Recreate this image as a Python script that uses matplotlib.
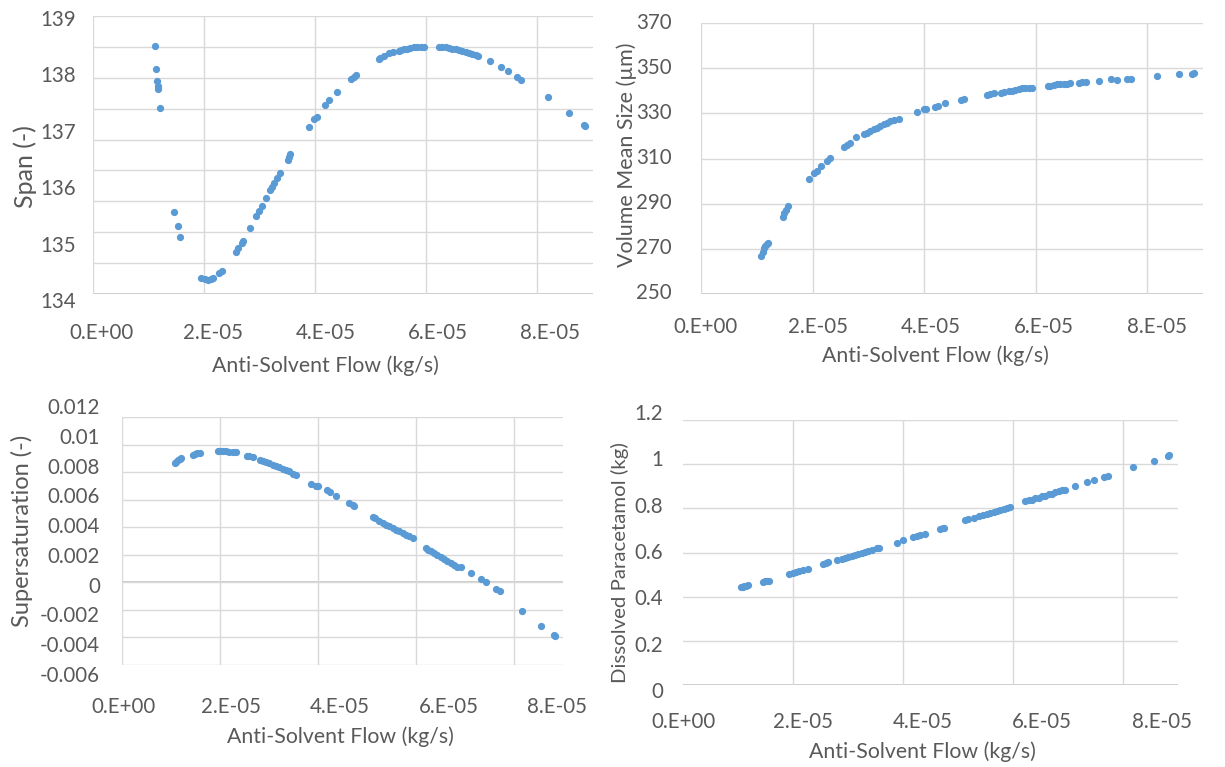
import numpy as np
import matplotlib
matplotlib.use("Agg")
import matplotlib.pyplot as plt

# ---------------- data (flow in kg/s) ----------------
span_flow = np.array([
    1.113, 1.131, 1.155, 1.161, 1.173, 1.203,
    1.456, 1.522, 1.570,
    1.943, 2.015, 2.075, 2.117, 2.165, 2.268, 2.316,
    2.568, 2.617, 2.677, 2.707, 2.833, 2.929, 2.990, 3.038, 3.110, 3.188,
    3.218, 3.260, 3.308, 3.368, 3.501, 3.531, 3.549,
    3.880, 3.982, 4.030, 4.180, 4.247, 4.391, 4.644, 4.692, 4.734,
    5.143, 5.173, 5.233, 5.323, 5.395, 5.504, 5.546, 5.594, 5.654, 5.714,
    5.774, 5.835, 5.895, 5.955,
    6.226, 6.286, 6.346, 6.406, 6.466, 6.526, 6.586, 6.647, 6.707, 6.767,
    6.827, 6.887, 6.935,
    7.140, 7.350, 7.471, 7.639, 7.711,
    8.198, 8.571, 8.830, 8.854]) * 1e-5
span_val = np.array([
    138.545, 138.125, 137.913, 137.830, 137.771, 137.446,
    135.590, 135.353, 135.147,
    134.420, 134.402, 134.390, 134.414, 134.431, 134.520, 134.556,
    134.892, 134.952, 135.040, 135.087, 135.312, 135.525, 135.608, 135.702,
    135.850, 135.986, 136.045, 136.104, 136.193, 136.293, 136.518, 136.577,
    136.624,
    137.097, 137.239, 137.286, 137.487, 137.582, 137.729, 137.954, 137.995,
    138.031,
    138.303, 138.326, 138.362, 138.409, 138.433, 138.456, 138.468, 138.480,
    138.492, 138.509, 138.521, 138.527, 138.527, 138.527,
    138.527, 138.527, 138.521, 138.509, 138.492, 138.480, 138.462, 138.450,
    138.433, 138.415, 138.391, 138.374, 138.356,
    138.267, 138.161, 138.102, 137.983, 137.936,
    137.635, 137.352, 137.138, 137.121])

vms_flow = np.array([
    1.077, 1.107, 1.131, 1.155, 1.179, 1.203,
    1.466, 1.496, 1.526, 1.556,
    1.945, 2.029, 2.076, 2.148, 2.256, 2.304,
    2.567, 2.615, 2.663, 2.783, 2.914, 2.974, 3.034, 3.094, 3.154, 3.213,
    3.273, 3.333, 3.393, 3.465, 3.543,
    3.872, 3.991, 4.039, 4.201, 4.243, 4.380, 4.662, 4.721,
    5.128, 5.176, 5.260, 5.380, 5.428, 5.517, 5.577, 5.637, 5.697, 5.757,
    5.816, 5.876, 5.936,
    6.217, 6.265, 6.325, 6.385, 6.445, 6.505, 6.564, 6.624, 6.774, 6.834,
    6.894,
    7.133, 7.354, 7.462, 7.642, 7.701,
    8.180, 8.569, 8.808, 8.838]) * 1e-5
vms_val = np.array([
    266.9, 268.8, 270.3, 271.3, 272.2, 272.8,
    284.3, 285.8, 287.2, 289.0,
    300.8, 303.4, 304.6, 306.7, 309.0, 310.1,
    315.2, 315.9, 316.7, 319.3, 320.7, 321.4, 322.3, 322.9, 323.6, 324.3,
    325.1, 325.8, 326.4, 327.0, 327.7,
    330.4, 331.7, 331.9, 332.9, 333.2, 334.7, 335.8, 336.3,
    338.3, 338.5, 338.8, 339.2, 339.5, 339.8, 340.1, 340.4, 340.7, 341.0,
    341.1, 341.3, 341.4,
    342.0, 342.3, 342.6, 342.8, 342.9, 343.0, 343.2, 343.3, 343.6, 343.8,
    343.8,
    344.4, 345.0, 344.8, 345.3, 345.4,
    346.6, 347.2, 347.6, 347.8])

ss_flow = np.array([
    1.073, 1.107, 1.141, 1.175, 1.209,
    1.446, 1.480, 1.528, 1.582,
    1.956, 2.010, 2.058, 2.126, 2.193, 2.275, 2.329,
    2.547, 2.601, 2.669, 2.818, 2.873, 2.941, 3.008, 3.076, 3.144, 3.212,
    3.280, 3.348, 3.416, 3.497, 3.552,
    3.857, 3.959, 3.993, 4.176, 4.244, 4.367,
    4.638, 4.706, 4.740,
    5.114, 5.168, 5.249, 5.317, 5.385, 5.453, 5.521, 5.589, 5.657, 5.725,
    5.793, 5.861, 5.929,
    6.200, 6.254, 6.302, 6.370, 6.438, 6.506, 6.574, 6.642, 6.710, 6.777,
    6.845, 6.913,
    7.117, 7.321, 7.423, 7.626, 7.708,
    8.170, 8.543, 8.815, 8.835]) * 1e-5
ss_val = np.array([
    8.657, 8.754, 8.851, 8.948, 9.020,
    9.263, 9.335, 9.384, 9.359,
    9.529, 9.529, 9.505, 9.529, 9.481, 9.432, 9.432,
    9.190, 9.141, 9.069, 8.899, 8.827, 8.730, 8.633, 8.536, 8.439, 8.342,
    8.245, 8.148, 8.051, 7.882, 7.785,
    7.155, 7.010, 6.961, 6.671, 6.574, 6.234,
    5.750, 5.629, 5.556,
    4.733, 4.636, 4.442, 4.296, 4.175, 4.054, 3.933, 3.812, 3.691, 3.570,
    3.449, 3.327, 3.182,
    2.480, 2.383, 2.262, 2.116, 1.971, 1.826, 1.680, 1.535, 1.390, 1.244,
    1.147, 1.099,
    0.663, 0.251, 0.033, -0.452, -0.645,
    -2.051, -3.165, -3.819, -3.892]) * 1e-3

dp_flow = np.array([
    1.048, 1.084, 1.114, 1.145, 1.187,
    1.448, 1.490, 1.533, 1.569,
    1.927, 2.006, 2.055, 2.115, 2.188, 2.279,
    2.552, 2.600, 2.643, 2.795, 2.886, 2.946, 3.007, 3.068, 3.128, 3.189,
    3.250, 3.310, 3.371, 3.432, 3.523, 3.559,
    3.887, 4.008, 4.178, 4.250, 4.311, 4.402,
    4.675, 4.723, 4.748,
    5.130, 5.190, 5.282, 5.373, 5.451, 5.524, 5.585, 5.646, 5.706, 5.767,
    5.828, 5.888, 5.949,
    6.222, 6.283, 6.343, 6.404, 6.465, 6.525, 6.586, 6.647, 6.707, 6.768,
    6.829, 6.889, 6.950,
    7.132, 7.344, 7.466, 7.648, 7.720,
    8.181, 8.557, 8.812, 8.842]) * 1e-5
dp_val = np.array([
    0.444, 0.446, 0.447, 0.450, 0.452,
    0.465, 0.470, 0.471, 0.473,
    0.501, 0.508, 0.512, 0.517, 0.520, 0.527,
    0.547, 0.553, 0.556, 0.565, 0.572, 0.577, 0.580, 0.584, 0.589, 0.593,
    0.598, 0.602, 0.607, 0.611, 0.619, 0.622,
    0.645, 0.655, 0.670, 0.675, 0.678, 0.682,
    0.708, 0.711, 0.712,
    0.745, 0.750, 0.758, 0.764, 0.768, 0.773, 0.777, 0.782, 0.786, 0.791,
    0.795, 0.800, 0.806,
    0.831, 0.836, 0.840, 0.845, 0.849, 0.854, 0.858, 0.863, 0.867, 0.873,
    0.878, 0.881, 0.884,
    0.902, 0.919, 0.928, 0.940, 0.946,
    0.986, 1.015, 1.038, 1.041])

flow_ticks = [0, 2e-5, 4e-5, 6e-5, 8e-5]
flow_labels = ["0.E+00", "2.E-05", "4.E-05", "6.E-05", "8.E-05"]
x_title = "Anti-Solvent Flow (kg/s)"

span_ticks = [134, 135, 136, 137, 138, 139]
vms_ticks = [250, 270, 290, 310, 330, 350, 370]
ss_ticks = [-0.006, -0.004, -0.002, 0, 0.002, 0.004, 0.006, 0.008, 0.01, 0.012]
ss_labels = ["-0.006", "-0.004", "-0.002", "0", "0.002", "0.004", "0.006",
             "0.008", "0.01", "0.012"]
dp_ticks = [0, 0.2, 0.4, 0.6, 0.8, 1.0, 1.2]
dp_labels = ["0", "0.2", "0.4", "0.6", "0.8", "1", "1.2"]

# ---------------- styling ----------------
W, H = 1225, 767
TXT = "#595959"
GRID = "#d9d9d9"
AXLINE = "#bfbfbf"
DOT = "#5b9bd5"
FONT = "Lato"
TICK_FS = 14.8
TITLE_FS = 15.3

fig = plt.figure(figsize=(W / 100, H / 100), dpi=100)


def rect(l, t, r, b):
    return [l / W, 1 - b / H, (r - l) / W, (b - t) / H]


def plot_area(l, t, r, b, x, y, ylim, hgrid, vgrid, base):
    ax = fig.add_axes(rect(l, t, r, b))
    ax.set_xlim(0, 9e-5)
    ax.set_ylim(*ylim)
    for s in ax.spines.values():
        s.set_visible(False)
    ax.set_xticks(vgrid)
    ax.set_yticks(hgrid)
    ax.tick_params(length=0, labelbottom=False, labelleft=False)
    ax.grid(True, color=GRID, lw=1.0, zorder=0)
    ax.axhline(base, color=AXLINE, lw=1.1, zorder=1)
    ax.plot(x, y, "o", ms=4.2, color=DOT, mec=DOT, zorder=3, clip_on=False)
    return ax


def x_tick_row(l, r, yc, ticks, labels):
    a = fig.add_axes(rect(l, yc - 1, r, yc), frameon=False)
    a.patch.set_visible(False)
    a.set_xlim(ticks[0], ticks[-1])
    a.set_xticks(ticks, labels, va="center", family=FONT, fontsize=TICK_FS,
                 color=TXT)
    a.tick_params(axis="x", length=0, pad=0)
    a.set_yticks([])


def y_tick_col(xr, yb, yt, ticks, labels):
    a = fig.add_axes(rect(xr, yt, xr + 1, yb), frameon=False)
    a.patch.set_visible(False)
    a.set_ylim(ticks[0], ticks[-1])
    a.set_yticks(ticks, labels, ha="right", va="center", family=FONT,
                 fontsize=TICK_FS, color=TXT)
    a.tick_params(axis="y", length=0, pad=0)
    a.set_xticks([])


def titles(ax, xt_pos, yt, yt_pos, yt_fs):
    ax.set_xlabel(x_title, family=FONT, fontsize=TITLE_FS, color=TXT,
                  va="center", ha="center")
    ax.xaxis.set_label_coords(xt_pos[0] / W, 1 - xt_pos[1] / H,
                              transform=fig.transFigure)
    ax.set_ylabel(yt, family=FONT, fontsize=yt_fs, color=TXT,
                  va="center", ha="center")
    ax.yaxis.set_label_coords(yt_pos[0] / W, 1 - yt_pos[1] / H,
                              transform=fig.transFigure)


# Span
span_lim = (134.142, 139.071)
ax1 = plot_area(93, 16, 593, 294, span_flow, span_val, span_lim,
                np.linspace(*span_lim, 10), flow_ticks, span_lim[0])
x_tick_row(101, 550, 333, flow_ticks, flow_labels)
y_tick_col(76, 302, 20, span_ticks, [str(v) for v in span_ticks])
titles(ax1, (325, 366), "Span (-)", (25, 167), 18)

# Volume mean size
ax2 = plot_area(701, 23, 1203, 294, vms_flow, vms_val, (250, 370),
                vms_ticks, flow_ticks, 250)
x_tick_row(705, 1157, 327, flow_ticks, flow_labels)
y_tick_col(672, 293, 23, vms_ticks, [str(v) for v in vms_ticks])
titles(ax2, (935, 356), "Volume Mean Size (µm)", (627, 155), 15.5)

# Supersaturation
ax3 = plot_area(122, 417, 563, 665, ss_flow, ss_val, (-0.006, 0.012),
                ss_ticks, flow_ticks, 0)
x_tick_row(123, 557, 707, flow_ticks, flow_labels)
y_tick_col(100, 676, 408, ss_ticks, ss_labels)
titles(ax3, (340, 737), "Supersaturation (-)", (22, 531), 17)

# Dissolved paracetamol
ax4 = plot_area(683, 420, 1178, 685, dp_flow, dp_val, (0, 1.2),
                dp_ticks, flow_ticks[1:], 0)
x_tick_row(683, 1162, 722, flow_ticks, flow_labels)
y_tick_col(663, 692, 414, dp_ticks, dp_labels)
titles(ax4, (922, 752), "Dissolved Paracetamol (kg)", (620, 563), 14.7)

fig.savefig("out.png", dpi=100, facecolor="white")
